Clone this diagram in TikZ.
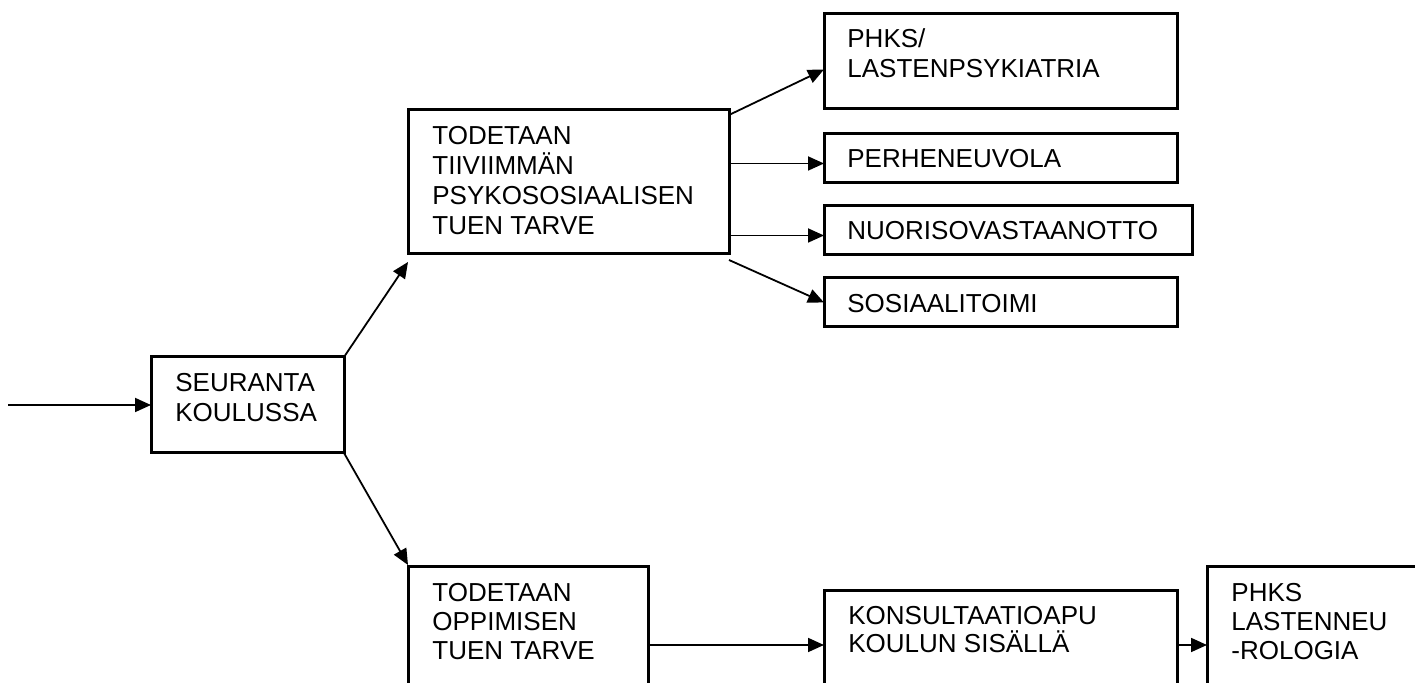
\documentclass[tikz,border=0pt]{standalone}
\usepackage{fontspec}
\setmainfont{Liberation Sans}
\usetikzlibrary{arrows.meta}
\tikzset{
  box/.style={draw, line width=1.5pt, anchor=north west, inner sep=0pt, outer sep=0pt},
  lbl/.style={anchor=base west, inner sep=0pt, align=left, font=\fontsize{13pt}{15pt}\selectfont},
  arr/.style={line width=0.9pt, -{Triangle[length=8pt,width=7pt]}},
}
\begin{document}
\begin{tikzpicture}[x=0.5pt,y=-0.5pt]
\useasboundingbox (0,0) rectangle (1415,683);
\clip (0,0) rectangle (1415,683);
% boxes
\node[box, minimum width=96.5pt, minimum height=48pt] (seur) at (151,357) {};
\node[box, minimum width=160.5pt, minimum height=72pt] (b1) at (408,110) {};
\node[box, minimum width=176.5pt, minimum height=47.5pt] (phks1) at (824,14) {};
\node[box, minimum width=176.5pt, minimum height=24.5pt] (perhe) at (824,134) {};
\node[box, minimum width=184pt, minimum height=24.5pt] (nuor) at (824,206) {};
\node[box, minimum width=176.5pt, minimum height=24.5pt] (sos) at (824,278) {};
\node[box, minimum width=120pt, minimum height=78pt] (b2) at (408,567) {};
\node[box, minimum width=176.5pt, minimum height=54pt] (kons) at (824,591) {};
\node[box, minimum width=120pt, minimum height=78pt] (phks2) at (1207,567) {};
% texts (anchored at the baseline of the last line)
\node[lbl] (tseur) at (175,422) {SEURANTA\\KOULUSSA};
\node[lbl] (tb1) at (432,235) {TODETAAN\\TIIVIIMMÄN\\PSYKOSOSIAALISEN\\TUEN TARVE};
\node[lbl] (tphks1) at (847,78) {PHKS/\\LASTENPSYKIATRIA};
\node[lbl] (tperhe) at (847,168) {PERHENEUVOLA};
\node[lbl] (tnuor) at (847,240) {NUORISOVASTAANOTTO};
\node[lbl] (tsos) at (847,313) {SOSIAALITOIMI};
\node[lbl, font=\fontsize{13pt}{14.5pt}\selectfont] (tb2) at (432,660) {TODETAAN\\OPPIMISEN\\TUEN TARVE};
\node[lbl, font=\fontsize{13pt}{14pt}\selectfont] (tkons) at (848,653) {KONSULTAATIOAPU\\KOULUN SISÄLLÄ};
\node[lbl, font=\fontsize{13pt}{14.5pt}\selectfont] (tphks2) at (1231,660) {PHKS\\LASTENNEU\\-ROLOGIA};
% connectors
\coordinate (in) at (8,405);
\draw[arr] (in) -- (seur.west);
\draw[arr] (seur.north east) -- ([yshift=-4pt]b1.south west);
\draw[arr] (seur.south east) -- ([yshift=1pt]b2.north west);
\draw[arr] ([yshift=-2.5pt]b1.north east) -- ([yshift=-4pt]phks1.west);
\draw[arr] ([yshift=-2.5pt]perhe.west -| b1.east) -- ([yshift=-2.5pt]perhe.west);
\draw[arr] ([yshift=-2.5pt]nuor.west -| b1.east) -- ([yshift=-2.5pt]nuor.west);
\draw[arr] ([yshift=-3pt]b1.south east) -- (sos.west);
\draw[arr] (b2.east) -- (kons.west);
\draw[arr] (kons.east) -- (phks2.west);
\end{tikzpicture}
\end{document}
